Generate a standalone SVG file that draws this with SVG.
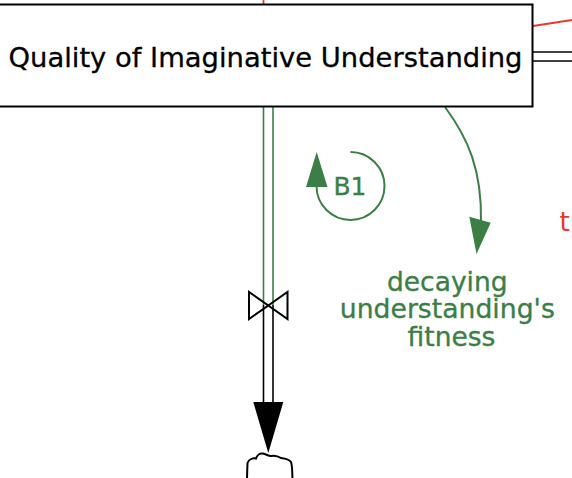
<svg xmlns="http://www.w3.org/2000/svg" width="572" height="478" viewBox="0 0 572 478">
<style>
.lbl{font-family:"DejaVu Sans","Liberation Sans",sans-serif;}
.stock{fill:#ffffff;stroke:#000000;stroke-width:2;}
.pipeG{stroke:#3b7f47;stroke-width:1.6;fill:none;}
.pipeK{stroke:#000000;stroke-width:1.6;fill:none;}
.red{stroke:#e8392b;stroke-width:1.8;fill:none;}
.green{stroke:#3b7f47;stroke-width:2;fill:none;}
.gtxt{fill:#3b7f47;stroke:#3b7f47;stroke-width:0.35;}
</style>
<rect width="572" height="478" fill="#ffffff"/>
<g id="connectors">
  <line class="red" x1="263.5" y1="0" x2="263.5" y2="4.5"/>
  <line class="red" x1="533" y1="26" x2="572" y2="20"/>
  <line class="pipeK" x1="533" y1="52" x2="572" y2="52"/>
  <line class="pipeK" x1="533" y1="61" x2="572" y2="61"/>
  <line class="pipeG" x1="263.5" y1="107" x2="263.5" y2="305"/>
  <line class="pipeG" x1="273" y1="107" x2="273" y2="305"/>
  <line class="pipeK" x1="263.5" y1="305" x2="263.5" y2="403"/>
  <line class="pipeK" x1="273" y1="305" x2="273" y2="403"/>
  <polygon points="253.3,402 283.3,402 268.3,453" fill="#000000"/>
  <path class="green" d="M445,107 C468,138 482,170 481,222"/>
  <polygon points="469.3,216.7 490.7,222.7 476.5,254" fill="#3b7f47"/>
</g>
<g id="stock-quality">
  <rect class="stock" x="-10" y="4.5" width="542.5" height="102"/>
  <text class="lbl" x="265.5" y="67" font-size="27" text-anchor="middle" fill="#000000" stroke="#000000" stroke-width="0.3" textLength="514" lengthAdjust="spacingAndGlyphs">Quality of Imaginative Understanding</text>
</g>
<g id="valve">
  <polygon points="249,292 249,319 268.3,305.5" fill="none" stroke="#000000" stroke-width="2" stroke-linejoin="miter"/>
  <polygon points="287.5,292 287.5,319 268.3,305.5" fill="none" stroke="#000000" stroke-width="2" stroke-linejoin="miter"/>
</g>
<g id="cloud">
  <path d="M247,478 L247.5,463 C249,459 253,458 256,458.5 C257,455 260,453 263,453.5 C266,454 268,456 271,456 C275,455 278,456 281,458 C285,458.5 289,459 291,462 C292.5,466 292,472 292.5,478" fill="#ffffff" stroke="#000000" stroke-width="2"/>
</g>
<g id="loop-B1">
  <path class="green" d="M350.5,152 A34,34 0 1 1 316.5,186"/>
  <polygon points="306,187 327.5,187 316.7,152" fill="#3b7f47"/>
  <text class="lbl gtxt" x="350" y="195" font-size="25" text-anchor="middle">B1</text>
</g>
<g id="flow-decaying">
  <text class="lbl gtxt" font-size="26.5" text-anchor="middle">
    <tspan x="451.5" y="290.5">decaying</tspan>
    <tspan x="451.5" y="318" textLength="215" lengthAdjust="spacingAndGlyphs">understanding's</tspan>
    <tspan x="451.5" y="345.5">fitness</tspan>
  </text>
</g>
<g id="red-label">
  <text class="lbl" x="559.5" y="231" font-size="26" fill="#e8392b">t</text>
</g>
</svg>
